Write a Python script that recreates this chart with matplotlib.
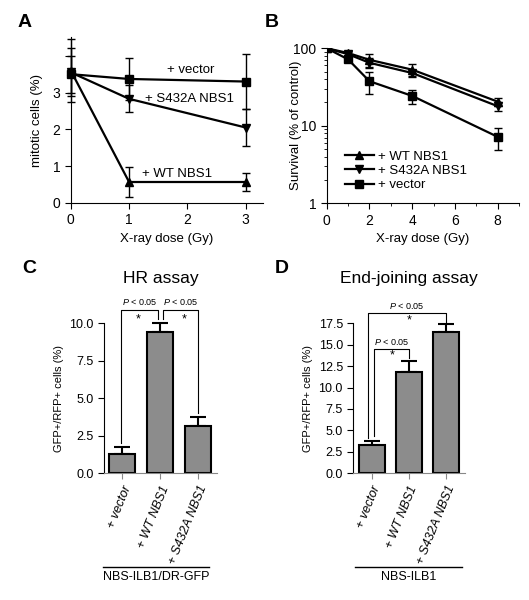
import numpy as np
import matplotlib
matplotlib.use("Agg")
import matplotlib.pyplot as plt
from matplotlib.lines import Line2D

plt.rcParams['font.family'] = ['Liberation Sans', 'DejaVu Sans']
plt.rcParams['mathtext.fontset'] = 'custom'
plt.rcParams['mathtext.it'] = 'Liberation Sans:italic'
plt.rcParams['mathtext.rm'] = 'Liberation Sans'

# panel A: mitotic cells after X-ray
dose_a = [0, 1, 3]
vec_a = [3.5, 3.37, 3.3]
vec_a_err = [0.5, 0.57, 0.75]
s432_a = [3.55, 2.83, 2.05]
s432_a_err = [0.65, 0.37, 0.5]
wt_a = [3.6, 0.57, 0.57]
wt_a_err = [0.85, 0.4, 0.24]

# panel B: survival
dose_b = [0, 1, 2, 4, 8]
wt_b = [100, 87, 71, 53, 20.5]
wt_b_err = [0, 6, 14, 10, 2.5]
s432_b = [100, 84, 65, 48, 17.9]
s432_b_err = [0, 5, 10, 4, 2.5]
vec_b = [100, 72, 37.6, 24.3, 7.2]
vec_b_err = [0, 6, 12, 5, 2.3]

# panels C and D: bar assays
bar_labels = ['+ vector', '+ WT NBS1', '+ S432A NBS1']
hr_vals = [1.27, 9.4, 3.18]
hr_err = [0.45, 0.6, 0.6]
ej_vals = [3.3, 11.86, 16.45]
ej_err = [0.5, 1.25, 0.95]

fig = plt.figure(figsize=(5.29, 6.0), dpi=100)

lw = 1.6
ms = 6

# ---- panel A
ax = fig.add_axes([0.1337, 0.6617, 0.364, 0.276])
ax.errorbar(dose_a, vec_a, yerr=vec_a_err, color='k', marker='s', ms=ms, lw=lw,
            capsize=3, elinewidth=1, clip_on=False)
ax.errorbar(dose_a, s432_a, yerr=s432_a_err, color='k', marker='v', ms=ms, lw=lw,
            capsize=3, elinewidth=1, clip_on=False)
ax.errorbar(dose_a, wt_a, yerr=wt_a_err, color='k', marker='^', ms=ms, lw=lw,
            capsize=3, elinewidth=1, clip_on=False)
ax.set_xlim(0, 3.3)
ax.set_ylim(0, 4.5)
ax.set_xticks([0, 1, 2, 3])
ax.set_yticks([0, 1, 2, 3, 4])
ax.set_yticklabels(['0', '1', '2', '3', ''])
ax.text(2.05, 3.61, '+ vector', ha='center', va='center', fontsize=9.5)
ax.text(1.28, 2.82, '+ S432A NBS1', ha='left', va='center', fontsize=9.5)
ax.text(1.22, 0.8, '+ WT NBS1', ha='left', va='center', fontsize=9.5)
ax.set_xlabel('X-ray dose (Gy)', fontsize=9.5)
ax.set_ylabel('mitotic cells (%)', fontsize=9.5)
ax.yaxis.set_label_coords(-0.144, 0.5)
for s in ['top', 'right']:
    ax.spines[s].set_visible(False)
ax.tick_params(labelsize=10, length=4)

# ---- panel B
ax = fig.add_axes([0.6176, 0.6612, 0.3636, 0.2583])
ax.errorbar(dose_b, wt_b, yerr=wt_b_err, color='k', marker='^', ms=ms, lw=lw,
            capsize=3, elinewidth=1, label='+ WT NBS1')
ax.errorbar(dose_b, s432_b, yerr=s432_b_err, color='k', marker='v', ms=ms, lw=lw,
            capsize=3, elinewidth=1, label='+ S432A NBS1')
ax.errorbar(dose_b, vec_b, yerr=vec_b_err, color='k', marker='s', ms=ms, lw=lw,
            capsize=3, elinewidth=1, label='+ vector')
ax.set_yscale('log')
ax.set_ylim(1, 100)
ax.set_xlim(0, 9)
ax.set_xticks([0, 2, 4, 6, 8])
ax.set_xticks([1, 3, 5, 7, 9], minor=True)
ax.set_yticks([1, 10, 100])
ax.set_yticklabels(['1', '10', '100'])
ax.set_xlabel('X-ray dose (Gy)', fontsize=9.5)
ax.set_ylabel('Survival (% of control)', fontsize=9.5)
ax.yaxis.set_label_coords(-0.128, 0.5)
for s in ['top', 'right']:
    ax.spines[s].set_visible(False)
ax.tick_params(labelsize=10, length=4)
ax.tick_params(which='minor', length=2.5)
handles = [Line2D([], [], color='k', marker=m, ms=ms, lw=lw) for m in ['^', 'v', 's']]
ax.legend(handles, ['+ WT NBS1', '+ S432A NBS1', '+ vector'], loc='lower left',
          bbox_to_anchor=(0.06, 0.035), frameon=False, fontsize=9.5, handlelength=2.2,
          handletextpad=0.3, labelspacing=0.15, borderpad=0)


def bar_panel(rect, vals, errs, ylim, yticks, title):
    ax = fig.add_axes(rect)
    x = np.arange(len(vals))
    ax.bar(x, vals, width=0.69, color='#8c8c8c', edgecolor='k', linewidth=1.5, zorder=2)
    ax.errorbar(x, vals, yerr=[np.zeros(len(vals)), errs], fmt='none', ecolor='k',
                elinewidth=1.5, capsize=6, capthick=1.5, zorder=1, clip_on=False)
    ax.set_xlim(-0.49, 2.5)
    ax.set_ylim(*ylim)
    ax.set_yticks(yticks)
    ax.set_yticklabels(['%.1f' % t for t in yticks])
    ax.set_xticks(x)
    ax.set_xticklabels(bar_labels, rotation=68, ha='right', rotation_mode='anchor',
                       fontsize=8.5, fontstyle='italic')
    ax.set_ylabel('GFP+/RFP+ cells (%)', fontsize=8)
    ax.set_title(title, fontsize=12.5, pad=29)
    for s in ['top', 'right']:
        ax.spines[s].set_visible(False)
    ax.spines['bottom'].set_color('#888888')
    ax.tick_params(labelsize=9, length=4)
    ax.tick_params(axis='x', colors='#888888', labelcolor='k')
    return ax


def bracket(ax, x0, x1, top, y0, y1, star_x, star_y, p_y):
    ax.plot([x0, x0, x1, x1], [y0, top, top, y1], color='k', lw=0.8, clip_on=False)
    ax.text((x0 + x1) / 2, p_y, '$P$ < 0.05', ha='center', va='bottom', fontsize=6.5)
    ax.text(star_x, star_y, '*', ha='center', va='center', fontsize=9)


# ---- panel C
ax = bar_panel([0.1966, 0.2112, 0.213, 0.25], hr_vals, hr_err, (0, 10),
               [0, 2.5, 5.0, 7.5, 10.0], 'HR assay')
bracket(ax, -0.03, 0.93, 10.9, 2.0, 10.3, 0.42, 10.25, 11.1)
bracket(ax, 1.07, 2.0, 10.9, 10.3, 4.0, 1.65, 10.25, 11.1)

# ---- panel D
ax = bar_panel([0.6679, 0.2112, 0.2111, 0.25], ej_vals, ej_err, (0, 17.5),
               [0, 2.5, 5.0, 7.5, 10.0, 12.5, 15.0, 17.5], 'End-joining assay')
bracket(ax, 0.06, 1.0, 14.5, 4.4, 13.5, 0.55, 13.7, 14.7)
bracket(ax, -0.1, 2.0, 18.7, 4.1, 17.7, 1.0, 17.8, 18.9)

# group labels under the bar panels
fig.add_artist(Line2D([0.195, 0.395], [0.055, 0.055], color='k', lw=1))
fig.text(0.295, 0.038, 'NBS-ILB1/DR-GFP', ha='center', va='center', fontsize=9)
fig.add_artist(Line2D([0.672, 0.873], [0.055, 0.055], color='k', lw=1))
fig.text(0.7725, 0.038, 'NBS-ILB1', ha='center', va='center', fontsize=9)

# panel letters
for lab, x, y in [('A', 0.034, 0.962), ('B', 0.501, 0.962), ('C', 0.042, 0.553), ('D', 0.52, 0.553)]:
    fig.text(x, y, lab, fontsize=14, fontweight='bold', ha='left', va='center')

fig.savefig('out.png', dpi=100)
